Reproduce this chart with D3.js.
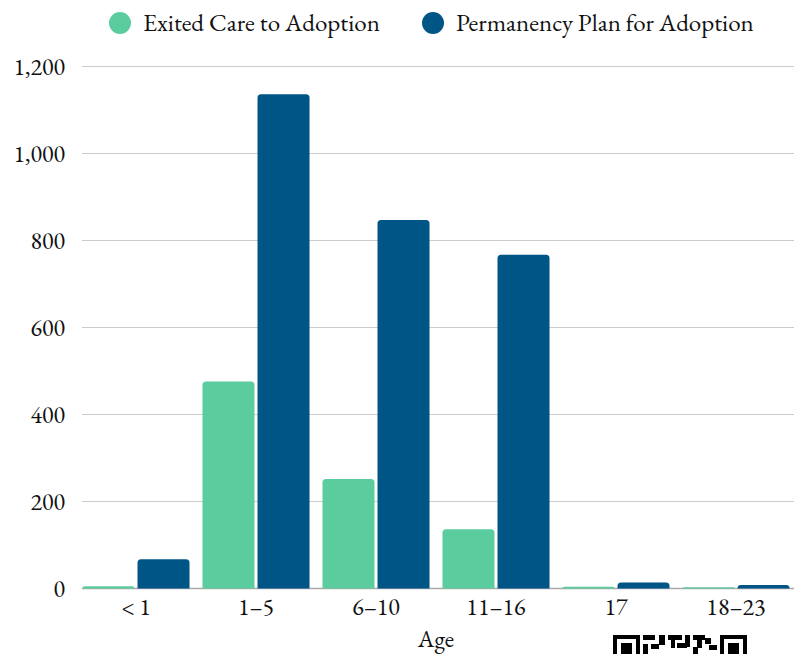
<!DOCTYPE html>
<html>
<head>
<meta charset="utf-8">
<script src="https://cdn.jsdelivr.net/npm/d3@7"></script>
<style>
html,body{margin:0;padding:0;background:#fff;}
svg{display:block;}
</style>
</head>
<body>
<svg id="chart" width="794" height="654"></svg>
<script>
const categories = ["< 1", "1–5", "6–10", "11–16", "17", "18–23"];
const seriesNames = ["Exited Care to Adoption", "Permanency Plan for Adoption"];
const exitedCare = [5, 476, 252, 136, 4, 3];
const permanencyPlan = [67, 1136, 847, 767, 14, 8];
const yTicks = [0, 200, 400, 600, 800, 1000, 1200];
const colors = ["#5BCC9D", "#005587"];
const xTitle = "Age";

const FONT = '"EB Garamond", "Liberation Serif", serif';
const FS = 24;
const svg = d3.select("#chart");
const W = 794, H = 654;
const m = {left: 76, right: -2, top: 66.5, bottom: 65.5};
const x0 = d3.scaleBand().domain(categories).range([m.left, W - m.right]).paddingInner(0.108).paddingOuter(0.054);
const x1 = d3.scaleBand().domain(seriesNames).range([0, x0.bandwidth()]).paddingInner(0.055);
const y = d3.scaleLinear().domain([0, 1200]).range([H - m.bottom, m.top]);

// gridlines
svg.append("g").selectAll("line").data(yTicks.filter(t => t > 0)).join("line")
  .attr("x1", 82).attr("x2", W).attr("y1", d => y(d)).attr("y2", d => y(d))
  .attr("stroke", "#cccccc").attr("stroke-width", 1);

// y axis labels
const yAxis = d3.axisLeft(y).tickValues(yTicks).tickSize(0).tickPadding(0).tickFormat(d3.format(","));
const gy = svg.append("g").attr("transform", "translate(65,0)").call(yAxis);
gy.select(".domain").remove();
gy.attr("font-family", null).attr("font-size", null);
gy.selectAll("text").attr("dy", "0.32em").style("font-size", FS + "px").style("fill", "#111").style("font-family", FONT);

// baseline
svg.append("line").attr("x1", 82).attr("x2", W).attr("y1", y(0)).attr("y2", y(0))
  .attr("stroke", "#aaaaaa").attr("stroke-width", 1.5);

// bars with rounded top corners
function barPath(x, yTop, w, h, r) {
  r = Math.min(r, h, w / 2);
  if (h <= 0) return "";
  return `M${x},${yTop + h} L${x},${yTop + r} Q${x},${yTop} ${x + r},${yTop} L${x + w - r},${yTop} Q${x + w},${yTop} ${x + w},${yTop + r} L${x + w},${yTop + h} Z`;
}
const data = categories.map((c, i) => ({cat: c, vals: [exitedCare[i], permanencyPlan[i]]}));
const groups = svg.append("g").selectAll("g").data(data).join("g")
  .attr("transform", d => `translate(${x0(d.cat)},0)`);
groups.selectAll("path").data(d => d.vals.map((v, j) => ({series: seriesNames[j], v, j}))).join("path")
  .attr("d", d => barPath(x1(d.series), y(d.v), x1.bandwidth(), y(0) - y(d.v), 3.5))
  .attr("fill", d => colors[d.j]);

// x axis labels
const xAxis = d3.axisBottom(x0).tickSize(0).tickPadding(0);
const gx = svg.append("g").attr("transform", "translate(0,615)").call(xAxis);
gx.select(".domain").remove();
gx.attr("font-family", null).attr("font-size", null);
gx.selectAll("text").attr("y", 0).attr("dy", 0).style("font-size", FS + "px").style("fill", "#111").style("font-family", FONT);

// x title
svg.append("text").attr("x", 436).attr("y", 647).attr("text-anchor", "middle")
  .style("font-size", FS + "px").style("font-family", FONT).style("fill", "#111").text(xTitle);

// legend
const legendX = [120, 433];
const leg = svg.append("g").selectAll("g").data(seriesNames).join("g")
  .attr("transform", (d, i) => `translate(${legendX[i]},23)`);
leg.append("circle").attr("r", 11).attr("fill", (d, i) => colors[i]);
leg.append("text").attr("x", 23).attr("y", 8)
  .style("font-size", "25px").style("font-family", FONT).style("fill", "#111").text(d => d);

// partial QR-like mark at the bottom edge
const qr = svg.append("g").attr("transform", "translate(613,635)");
[[0, 27], [107, 27]].forEach(([qx, w]) => {
  qr.append("rect").attr("x", qx + 2).attr("y", 2).attr("width", w - 4).attr("height", 30).attr("fill", "none").attr("stroke", "#000").attr("stroke-width", 4);
  qr.append("rect").attr("x", qx + 8).attr("y", 8).attr("width", w - 16).attr("height", 30).attr("fill", "#000");
});
const blocks = [[30,0,12,5],[46,0,6,10],[30,9,5,10],[38,9,8,5],[55,0,14,5],[58,5,4,8],[64,8,10,5],[72,0,5,12],[80,0,12,5],[84,5,5,8],[92,3,6,6],[96,10,8,5],[80,12,5,7]];
qr.selectAll("rect.b").data(blocks).join("rect").attr("class", "b")
  .attr("x", d => d[0]).attr("y", d => d[1]).attr("width", d => d[2]).attr("height", d => d[3]).attr("fill", "#000");
</script>
</body>
</html>
